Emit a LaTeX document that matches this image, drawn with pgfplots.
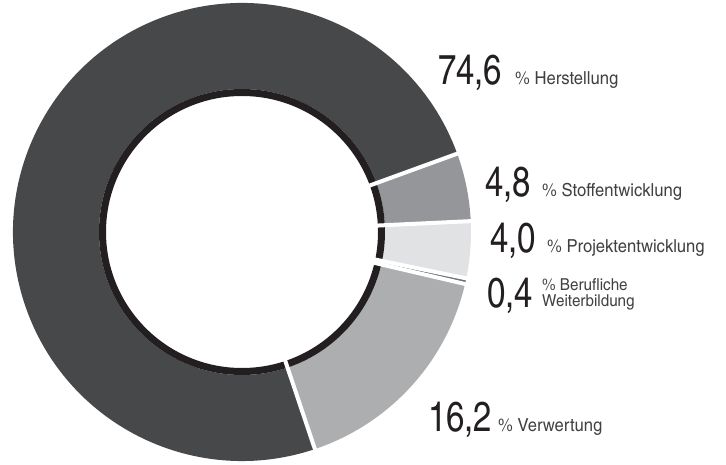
\documentclass[border=0pt]{standalone}
\usepackage{pgfplots}
\usepackage{pgfplotstable}
\pgfplotsset{compat=1.18}
\usepackage{fontspec}
\setmainfont{texgyreheroscn}[Extension=.otf, UprightFont=*-regular, BoldFont=*-bold]
\newfontfamily\numfont{texgyreheroscn}[Extension=.otf, UprightFont=*-regular, FakeStretch=0.96]
\newfontfamily\lblfont{texgyreheroscn}[Extension=.otf, UprightFont=*-regular, FakeStretch=1.13]

\definecolor{slice0}{HTML}{47484A}
\definecolor{slice1}{HTML}{ADAEB0}
\definecolor{slice2}{HTML}{6D6E71}
\definecolor{slice3}{HTML}{E1E2E3}
\definecolor{slice4}{HTML}{959699}
\definecolor{ringblack}{HTML}{231F20}
\definecolor{numcol}{HTML}{231F20}
\definecolor{txtcol}{HTML}{414042}

% shares in percent, drawn counter-clockwise starting at 20 degrees
\pgfplotstableread{
name value
Herstellung 74.6
Verwertung 16.2
Beruflich 0.4
Projekt 4.0
Stoff 4.8
}\piedata

\tikzset{
  numnode/.style={anchor=base west, inner sep=0pt, text=numcol, font={\numfont\fontsize{42}{42}\selectfont}},
  lblnode/.style={anchor=base west, inner sep=0pt, text=txtcol, font={\lblfont\fontsize{18}{15}\selectfont}},
}

\begin{document}
\begin{tikzpicture}
\begin{axis}[
  hide axis, scale only axis,
  width=726bp, height=465bp,
  xmin=0, xmax=726, ymin=0, ymax=465,
  clip=false,
]
% slices
\def\cur{20}
\pgfplotsforeachungrouped \i in {0,...,4}{%
  \pgfplotstablegetelem{\i}{value}\of\piedata
  \pgfmathsetmacro\nxt{\cur+3.6*\pgfplotsretval}%
  \edef\cmd{\noexpand\fill[slice\i] ([shift={(\cur:229bp)}]axis cs:242,233) arc[start angle=\cur, end angle=\nxt, radius=229bp] -- ([shift={(\nxt:143bp)}]axis cs:242,233) arc[start angle=\nxt, end angle=\cur, radius=143bp] -- cycle;}%
  \cmd
  \let\cur\nxt
}
% inner black ring
\draw[ringblack, line width=7bp] (axis cs:242,233) circle[radius=139.5bp];
% white gaps between the slices
\def\cur{20}
\pgfplotsforeachungrouped \i in {0,...,4}{%
  \edef\cmd{\noexpand\draw[white, line width=4bp] ([shift={(\cur:130bp)}]axis cs:242,233) -- ([shift={(\cur:232bp)}]axis cs:242,233);}%
  \cmd
  \pgfplotstablegetelem{\i}{value}\of\piedata
  \pgfmathsetmacro\nxt{\cur+3.6*\pgfplotsretval}%
  \let\cur\nxt
}
% labels
\node[numnode] at (axis cs:438,380) {74,6};
\node[lblnode] at (axis cs:515,380) {\% Herstellung};
\node[numnode] at (axis cs:485,268) {4,8};
\node[lblnode] at (axis cs:542,268) {\% Stoffentwicklung};
\node[numnode] at (axis cs:490,212) {4,0};
\node[lblnode] at (axis cs:547,212) {\% Projektentwicklung};
\node[numnode] at (axis cs:487,157) {0,4};
\node[lblnode, anchor=south west, align=left, font={\lblfont\fontsize{16.5}{15.5}\selectfont}] at (axis cs:542,155) {\% Berufliche\\Weiterbildung};
\node[numnode] at (axis cs:428,33) {16,2};
\node[lblnode] at (axis cs:498,33) {\% Verwertung};
\end{axis}
\pgfresetboundingbox
\path (current axis.south west) rectangle (current axis.north east);
\end{tikzpicture}
\end{document}
